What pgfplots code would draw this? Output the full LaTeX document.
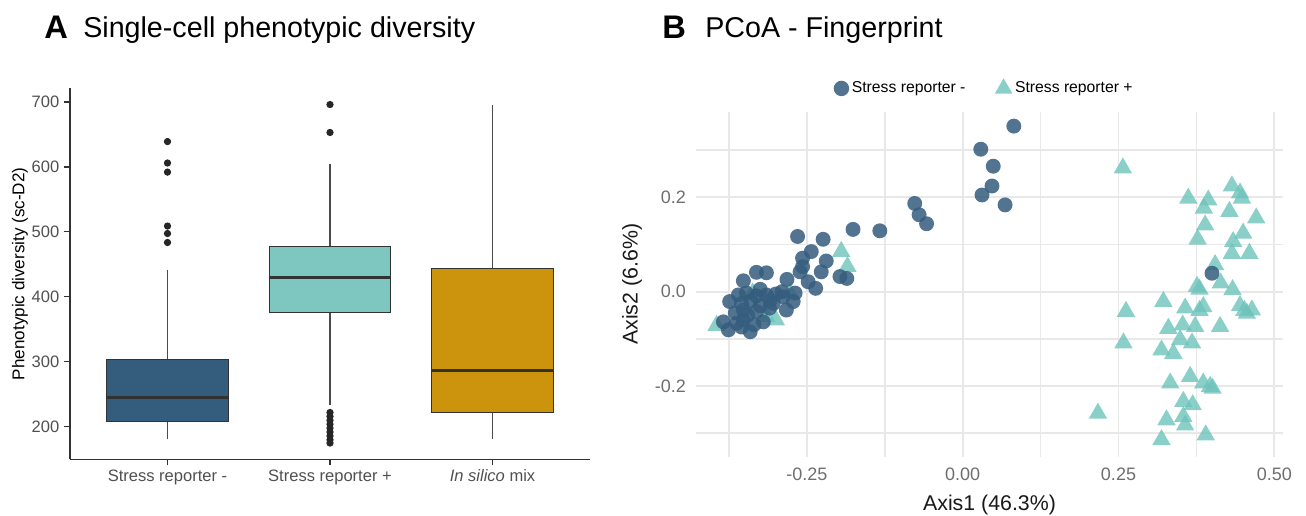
\documentclass[border=0pt]{standalone}
\usepackage{fontspec}
\setmainfont{Liberation Sans}
\usepackage{pgfplots}
\pgfplotsset{compat=1.18}
\usepgfplotslibrary{statistics}
\definecolor{cneg}{RGB}{52,92,125}
\definecolor{cpos}{RGB}{126,198,192}
\definecolor{cmix}{RGB}{204,148,12}
\definecolor{tickgray}{RGB}{80,80,80}
\definecolor{tickgrayB}{RGB}{110,110,110}
\definecolor{gridgray}{RGB}{232,232,232}
\definecolor{edgegray}{RGB}{50,50,50}
\definecolor{whiskgray}{RGB}{75,75,75}
\definecolor{tri}{RGB}{110,195,187}
\begin{document}
\begin{tikzpicture}[x=0.75pt,y=-0.75pt]
\useasboundingbox (0,0) rectangle (1306,516);
% titles
\node[anchor=base west,inner sep=0,font=\fontsize{24.5}{28}\selectfont\bfseries] at (44,38.5) {A};
\node[anchor=base west,inner sep=0,font=\fontsize{21.5}{26}\selectfont] at (83,38) {Single-cell phenotypic diversity};
\node[anchor=base west,inner sep=0,font=\fontsize{24.5}{28}\selectfont\bfseries] at (662,38.5) {B};
\node[anchor=base west,inner sep=0,font=\fontsize{21.5}{26}\selectfont] at (705,38) {PCoA - Fingerprint};

% ---------- Panel A ----------
\begin{axis}[
  at={(52.5pt,-344.475pt)}, anchor=south west,
  scale only axis, width=390pt, height=278.25pt,
  xmin=0.4, xmax=3.6, ymin=150, ymax=721,
  axis x line*=bottom, axis y line*=left,
  axis line style={draw=edgegray, line width=0.9pt},
  xtick={1,2,3},
  xticklabels={Stress reporter -, Stress reporter +, \textit{In silico} mix},
  ytick={200,300,400,500,600,700},
  tick align=outside, major tick length=4.5pt,
  tick style={draw=edgegray, line width=0.9pt},
  tick label style={font=\fontsize{12.4}{14}\selectfont, text=tickgray},
  /pgf/number format/assume math mode=true,
  ylabel={Phenotypic diversity (sc-D2)},
  every axis y label/.style={at={(axis description cs:-0.0962,0.5)}, rotate=90, anchor=center, font=\fontsize{12.8}{15}\selectfont},
  boxplot/draw direction=y,
  boxplot/every median/.style={line width=2.2pt, draw=edgegray},
  boxplot/every whisker/.style={draw=whiskgray, line width=0.8pt},
]
\addplot[boxplot prepared={lower whisker=180.6, lower quartile=207.7, median=245.7, upper quartile=304, upper whisker=441, draw position=1, box extend=0.75, whisker extend=0},
  fill=cneg, draw=edgegray, line width=0.8pt, mark=*, mark size=2.3pt, mark options={fill=black!85, draw=black!85}]
  table[row sep=\\, y index=0]{y\\639\\606\\592\\509\\497.5\\483.7\\};
\addplot[boxplot prepared={lower whisker=233, lower quartile=376, median=429.3, upper quartile=477, upper whisker=605, draw position=2, box extend=0.75, whisker extend=0},
  fill=cpos, draw=edgegray, line width=0.8pt, mark=*, mark size=2.3pt, mark options={fill=black!85, draw=black!85}]
  table[row sep=\\, y index=0]{y\\696\\653\\222\\216\\210\\204\\198\\192\\186\\180\\175\\};
\addplot[boxplot prepared={lower whisker=180.6, lower quartile=221.5, median=286, upper quartile=443.6, upper whisker=695, draw position=3, box extend=0.75, whisker extend=0},
  fill=cmix, draw=edgegray, line width=0.8pt, mark=*, mark size=2.3pt, mark options={fill=black!85, draw=black!85}]
  coordinates {};
\end{axis}

% ---------- Panel B ----------
\begin{axis}[
  at={(522pt,-342.525pt)}, anchor=south west,
  scale only axis, width=440.25pt, height=258.75pt,
  xmin=-0.428, xmax=0.514, ymin=-0.35, ymax=0.3816,
  axis line style={draw=none},
  major tick length=0pt, minor tick length=0pt,
  xtick={-0.25,0,0.25,0.5}, xticklabels={-0.25,0.00,0.25,0.50},
  ytick={-0.2,0,0.2}, yticklabels={-0.2,0.0,0.2},
  minor xtick={-0.375,-0.125,0.125,0.375},
  minor ytick={-0.3,-0.1,0.1,0.3},
  grid=both,
  major grid style={draw=gridgray, line width=1.4pt},
  minor grid style={draw=gridgray, line width=1.1pt},
  tick label style={font=\fontsize{13.5}{16}\selectfont, text=tickgrayB},
  xticklabel style={yshift=-5pt},
  yticklabel style={xshift=-4pt},
  xlabel={Axis1 (46.3\%)}, ylabel={Axis2 (6.6\%)},
  every axis x label/.style={at={(axis description cs:0.5,0)}, anchor=center, yshift=-36.5pt, font=\fontsize{16}{19}\selectfont, text=black!90},
  every axis y label/.style={at={(axis description cs:-0.109,0.5)}, rotate=90, anchor=center, font=\fontsize{16}{19}\selectfont, text=black!90},
  legend columns=2,
  legend style={at={(0.4915,1)}, anchor=center, yshift=17.8pt, draw=none, fill=none,
    font=\fontsize{11.8}{14}\selectfont, /tikz/every even column/.append style={column sep=20pt}},
  legend image code/.code={\draw[mark repeat=2,mark phase=2,#1] plot coordinates {(0pt,0pt) (5pt,0pt) (10pt,0pt)};},
]
\addlegendimage{only marks, mark=*, mark size=5.8pt, mark options={draw=cneg, fill=cneg, draw opacity=0, fill opacity=0.85}}
\addlegendentry{Stress reporter -}
\addlegendimage{only marks, mark=triangle*, mark size=7.6pt, mark options={draw=tri, fill=tri, draw opacity=0, fill opacity=0.8}}
\addlegendentry{Stress reporter +}

\addplot[forget plot, only marks, color=tri, mark=triangle*, mark size=8pt, mark options={draw=tri, fill=tri, draw opacity=0, fill opacity=0.8}]
coordinates {
(-0.195,0.085) (-0.185,0.053) (-0.315,-0.053) (-0.395,-0.072) (-0.337,-0.003) (-0.277,-0.003) (-0.300,-0.060)
(0.257,0.262) (0.432,0.224) (0.445,0.209) (0.448,0.198) (0.362,0.198) (0.394,0.194) (0.387,0.177)
(0.428,0.170) (0.471,0.156) (0.389,0.141) (0.450,0.124) (0.377,0.111) (0.434,0.106) (0.460,0.081)
(0.432,0.081) (0.405,0.057) (0.414,0.018) (0.376,0.011) (0.380,0.005) (0.433,0.004) (0.322,-0.021)
(0.357,-0.035) (0.386,-0.032) (0.380,-0.040) (0.445,-0.030) (0.464,-0.039) (0.456,-0.046) (0.452,-0.040)
(0.262,-0.042) (0.330,-0.078) (0.353,-0.071) (0.373,-0.074) (0.413,-0.074) (0.258,-0.109) (0.319,-0.124)
(0.338,-0.131) (0.349,-0.102) (0.368,-0.109) (0.333,-0.194) (0.365,-0.180) (0.386,-0.194) (0.397,-0.201)
(0.401,-0.205) (0.354,-0.233) (0.369,-0.240) (0.327,-0.272) (0.354,-0.265) (0.357,-0.283) (0.217,-0.258)
(0.319,-0.314) (0.390,-0.304)
};
\addplot[forget plot, only marks, color=cneg, mark=*, mark size=5.6pt, mark options={draw=cneg, fill=cneg, draw opacity=0, fill opacity=0.85}]
coordinates {
(0.082,0.351) (0.029,0.302) (0.049,0.266) (0.047,0.224) (0.031,0.205) (0.068,0.184) (0.400,0.039)
(-0.077,0.187) (-0.070,0.163) (-0.058,0.144) (-0.133,0.129) (-0.176,0.132) (-0.265,0.117) (-0.224,0.111)
(-0.243,0.085) (-0.257,0.071) (-0.219,0.065) (-0.257,0.053) (-0.261,0.042) (-0.227,0.042) (-0.197,0.032)
(-0.186,0.028) (-0.331,0.041) (-0.315,0.040) (-0.282,0.026) (-0.352,0.023) (-0.248,0.021) (-0.236,0.007)
(-0.269,-0.003) (-0.288,-0.011) (-0.315,-0.007) (-0.331,-0.009) (-0.347,-0.003) (-0.374,-0.021) (-0.355,-0.025)
(-0.304,-0.025) (-0.283,-0.039) (-0.384,-0.064) (-0.341,-0.085) (-0.363,-0.067) (-0.376,-0.081) (-0.352,-0.060)
(-0.320,-0.064) (-0.331,-0.042) (-0.309,-0.018) (-0.272,-0.021) (-0.360,-0.007) (-0.352,-0.039)
(-0.340,-0.020) (-0.325,-0.030) (-0.300,-0.005) (-0.345,-0.050) (-0.365,-0.045) (-0.310,-0.035)
(-0.290,0.000) (-0.325,0.005) (-0.335,-0.070) (-0.355,-0.075)
};
\end{axis}
\end{tikzpicture}
\end{document}
